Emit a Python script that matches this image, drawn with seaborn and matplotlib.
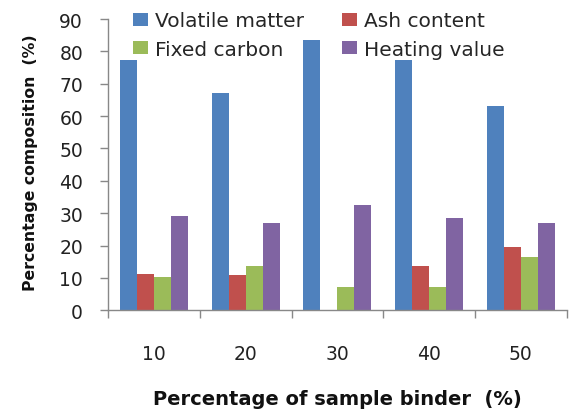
import numpy as np
import pandas as pd
import matplotlib
matplotlib.use("Agg")
import matplotlib.pyplot as plt
import seaborn as sns

binder = ["10", "20", "30", "40", "50"]
volatile = [77.5, 67.2, 83.5, 77.5, 63.1]
ash = [11.3, 10.8, 0.0, 13.7, 19.4]
fixed_carbon = [10.2, 13.7, 7.3, 7.3, 16.5]
heating = [29.1, 26.9, 32.6, 28.5, 26.9]

series = ["Volatile matter", "Ash content", "Fixed carbon", "Heating value"]
colors = ["#4F81BD", "#C0504D", "#9BBB59", "#8064A2"]

df = pd.DataFrame({"binder": binder, series[0]: volatile, series[1]: ash,
                   series[2]: fixed_carbon, series[3]: heating})
long = df.melt(id_vars="binder", var_name="component", value_name="value")

sns.set_style("white")
plt.rcParams["font.family"] = ["DejaVu Sans"]

fig = plt.figure(figsize=(5.69, 4.10), dpi=100)
ax = fig.add_axes([0.19, 0.241, 0.806, 0.71])

sns.barplot(data=long, x="binder", y="value", hue="component", hue_order=series,
            palette=colors, width=0.74, saturation=1, ax=ax, errorbar=None,
            linewidth=0)

ax.set_ylim(0, 90)
ax.set_xlim(-0.5, 4.5)
ax.set_yticks(range(0, 91, 10))
ax.tick_params(axis="y", labelsize=13.5, length=6, width=1, color="#888888",
               direction="out", left=True, pad=12, labelcolor="#222222")

ax.set_xticks(np.arange(-0.5, 5, 1))
ax.set_xticklabels([])
ax.set_xticks(range(len(binder)), minor=True)
ax.set_xticklabels(binder, minor=True)
ax.tick_params(axis="x", which="major", length=6, width=1, color="#888888",
               direction="out", bottom=True)
ax.tick_params(axis="x", which="minor", length=0, labelsize=13.5, pad=24,
               labelcolor="#222222")

for s in ["top", "right"]:
    ax.spines[s].set_visible(False)
for s in ["left", "bottom"]:
    ax.spines[s].set_color("#888888")
    ax.spines[s].set_linewidth(1)

ax.set_xlabel("Percentage of sample binder  (%)", fontsize=14, fontweight="bold",
              labelpad=19, color="#111111")
ax.set_ylabel("Percentage composition  (%)", fontsize=11.3, fontweight="bold",
              color="#111111")
ax.yaxis.set_label_coords(-0.153, 0.51)

# row-major order like the original legend
handles, labels = ax.get_legend_handles_labels()
order = [0, 2, 1, 3]
ax.legend([handles[i] for i in order], [labels[i] for i in order],
          ncol=2, frameon=False, loc="upper left", bbox_to_anchor=(0.054, 1.027),
          borderpad=0, borderaxespad=0, fontsize=14.5, handlelength=0.75,
          handleheight=0.6, handletextpad=0.35, columnspacing=1.9,
          labelspacing=0.48)

fig.savefig("out.png", dpi=100)
